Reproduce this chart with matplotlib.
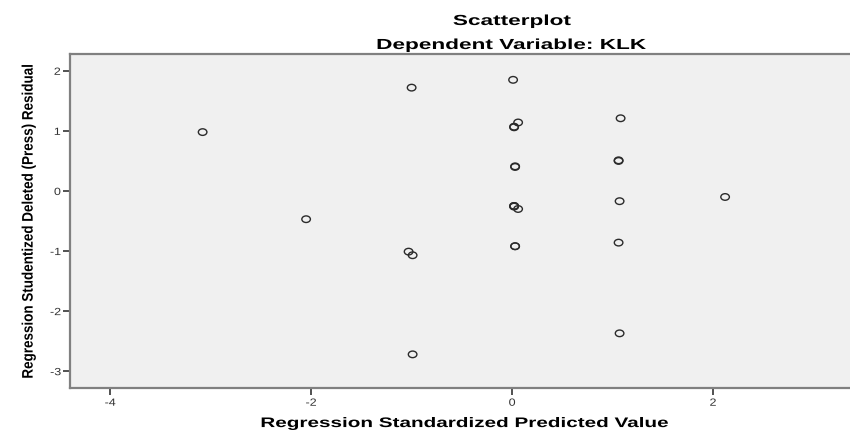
import numpy as np
import matplotlib.pyplot as plt
from matplotlib.path import Path
from matplotlib.transforms import Affine2D
from matplotlib.patheffects import AbstractPathEffect

# Regression standardized predicted value (x) and studentized deleted residual (y)
pred = [-3.08, -2.05, -1.00, -1.03, -0.99, -0.99,
        0.01, 0.06, 0.02, 0.02,
        0.03, 0.03, 0.02, 0.02, 0.02, 0.06,
        0.03, 0.03,
        1.08, 1.06, 1.06, 1.07, 1.06, 1.07, 2.12]
resid = [0.98, -0.47, 1.72, -1.01, -1.07, -2.72,
         1.85, 1.14, 1.06, 1.07,
         0.40, 0.41, -0.25, -0.25, -0.26, -0.30,
         -0.92, -0.92,
         1.21, 0.50, 0.51, -0.17, -0.86, -2.37, -0.10]

xticks = [-4, -2, 0, 2]
yticks = [-3, -2, -1, 0, 1, 2]


class Stretch(AbstractPathEffect):
    """Draw text wider/narrower about its own centre (SPSS export look)."""
    def __init__(self, sx=1.0, sy=1.0):
        super().__init__()
        self.sx, self.sy = sx, sy

    def draw_path(self, renderer, gc, tpath, affine, rgbFace=None):
        bb = tpath.get_extents(affine)
        cx, cy = (bb.x0 + bb.x1) / 2, (bb.y0 + bb.y1) / 2
        tr = affine + Affine2D().translate(-cx, -cy).scale(self.sx, self.sy).translate(cx, cy)
        renderer.draw_path(gc, tpath, tr, rgbFace)


fig = plt.figure(figsize=(8.5, 4.32), dpi=100)
ax = fig.add_axes([70/850, 44/432, 790/850, 334/432])
ax.set_facecolor('#f0f0f0')

# slightly wide open circle, as in the original export
ell = Path.unit_circle().transformed(Affine2D().scale(1.3, 1.0))
ax.scatter(pred, resid, marker=ell, s=38, facecolors='none',
           edgecolors='#2b2b2b', linewidths=1.0, zorder=3)

ax.set_xlim(-4.40, (860-512)/100.5)
ax.set_ylim(-3.28, 2.28)
ax.set_xticks(xticks)
ax.set_yticks(yticks)
ax.set_xticklabels([str(t) for t in xticks])
ax.set_yticklabels([str(t) for t in yticks])
ax.tick_params(direction='out', length=5, width=1.2, color='#333333',
               labelsize=7.5, labelcolor='#333333', pad=2)
for lab in ax.get_xticklabels() + ax.get_yticklabels():
    lab.set_family('Liberation Sans')
    lab.set_path_effects([Stretch(sx=1.2)])

for side in ['top', 'bottom', 'left', 'right']:
    ax.spines[side].set_color('#808080')
    ax.spines[side].set_linewidth(1.6)

ax.set_xlabel('Regression Standardized Predicted Value', fontsize=10,
              fontweight='bold', family='Liberation Sans', labelpad=6,
              path_effects=[Stretch(sx=1.49)])
ax.set_ylabel('Regression Studentized Deleted (Press) Residual', fontsize=11,
              fontweight='bold', family='Liberation Sans', labelpad=11,
              path_effects=[Stretch(sy=0.88)])

fig.text(512/850, 1 - 21/432, 'Scatterplot', ha='center', va='center',
         fontsize=10.5, fontweight='bold', family='Liberation Sans',
         path_effects=[Stretch(sx=1.55)])
fig.text(512/850, 1 - 45/432, 'Dependent Variable: KLK', ha='center', va='center',
         fontsize=10.5, fontweight='bold', family='Liberation Sans',
         path_effects=[Stretch(sx=1.55)])

fig.savefig('out.png', dpi=100)
